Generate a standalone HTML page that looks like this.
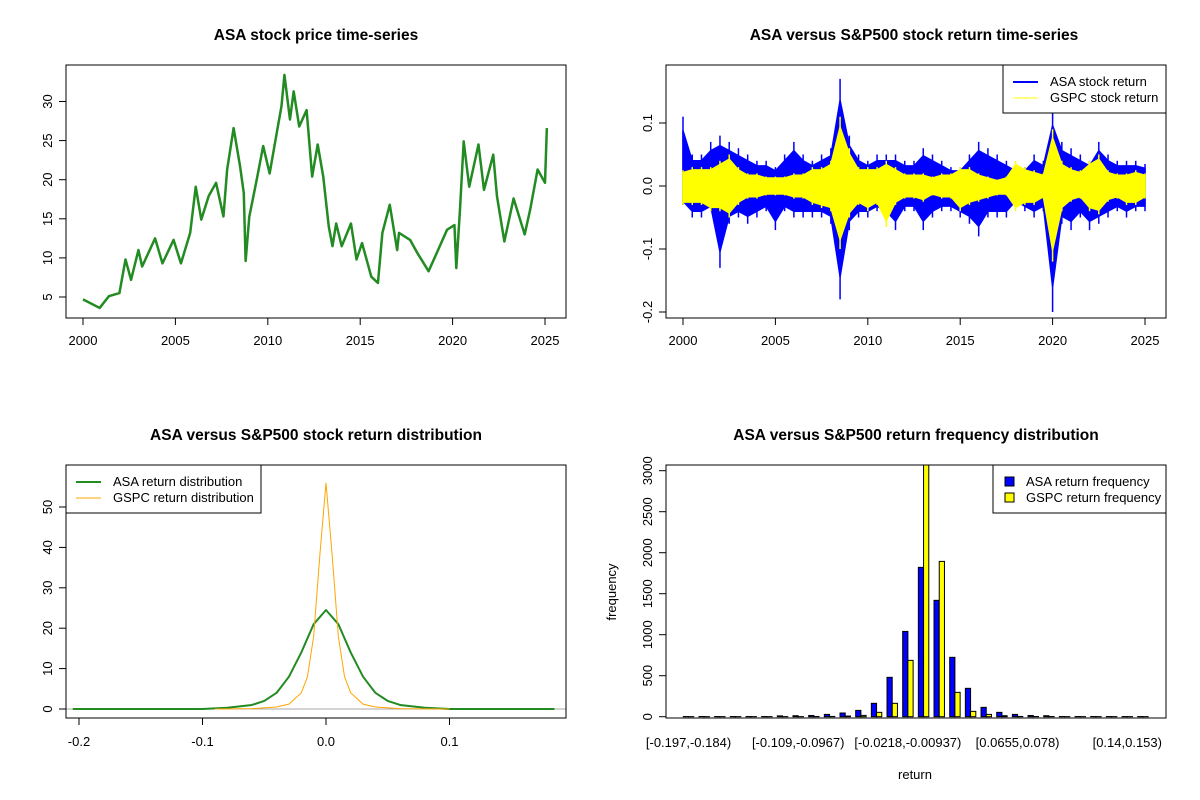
<!DOCTYPE html>
<html><head><meta charset="utf-8"><style>
body{margin:0;background:#fff}
svg{display:block;font-family:"Liberation Sans",Arial,sans-serif}
</style></head><body>
<svg id="c" width="1200" height="800" viewBox="0 0 1200 800"></svg>
<script>
// ---------- data ----------
const priceYears=[2000,2000.9,2001.4,2001.97,2002.3,2002.6,2003,2003.2,2003.9,2004.3,2004.9,2005.3,2005.8,2006.1,2006.4,2006.8,2007.2,2007.6,2007.8,2008.15,2008.5,2008.7,2008.8,2009,2009.4,2009.75,2010.1,2010.5,2010.74,2010.9,2011.2,2011.4,2011.7,2012.1,2012.4,2012.7,2013,2013.3,2013.5,2013.7,2014,2014.5,2014.8,2015.1,2015.6,2015.96,2016.2,2016.6,2017,2017.1,2017.7,2018.1,2018.7,2019.1,2019.7,2020.1,2020.2,2020.4,2020.6,2020.9,2021.4,2021.7,2022.2,2022.4,2022.8,2023.3,2023.9,2024.2,2024.6,2025,2025.1];
const priceVals=[4.7,3.6,5.1,5.5,9.8,7.2,11,8.9,12.5,9.3,12.3,9.3,13.2,19.1,14.9,17.9,19.6,15.3,21.3,26.6,21.7,18.3,9.6,15.3,20,24.3,20.8,26.2,29.4,33.4,27.7,31.3,26.8,28.9,20.4,24.5,20.4,14,11.5,14.4,11.5,14.4,9.8,11.9,7.6,6.8,13.2,16.8,11,13.2,12.3,10.6,8.3,10.4,13.6,14.2,8.7,16.2,24.9,19.1,24.5,18.7,23.2,17.9,12.1,17.6,13,16.2,21.3,19.6,26.6];
const retYears=[2000,2000.5,2001,2001.5,2002,2002.5,2003,2003.5,2004,2004.5,2005,2005.5,2006,2006.5,2007,2007.5,2008,2008.5,2009,2009.5,2010,2010.5,2011,2011.5,2012,2012.5,2013,2013.5,2014,2014.5,2015,2015.5,2016,2016.5,2017,2017.5,2018,2018.5,2019,2019.5,2020,2020.5,2021,2021.5,2022,2022.5,2023,2023.5,2024,2024.5,2025];
const asaHi=[0.11,0.05,0.05,0.07,0.08,0.07,0.06,0.05,0.04,0.04,0.03,0.05,0.07,0.05,0.04,0.05,0.06,0.17,0.08,0.05,0.04,0.05,0.05,0.05,0.04,0.04,0.06,0.05,0.04,0.03,0.03,0.05,0.07,0.06,0.05,0.04,0.03,0.03,0.05,0.04,0.12,0.07,0.06,0.05,0.04,0.07,0.05,0.04,0.04,0.04,0.035];
const asaLo=[-0.03,-0.05,-0.05,-0.04,-0.13,-0.06,-0.05,-0.06,-0.05,-0.04,-0.07,-0.04,-0.05,-0.05,-0.05,-0.05,-0.06,-0.18,-0.07,-0.05,-0.05,-0.04,-0.05,-0.07,-0.04,-0.04,-0.07,-0.05,-0.04,-0.04,-0.05,-0.06,-0.08,-0.05,-0.05,-0.05,-0.03,-0.04,-0.05,-0.04,-0.2,-0.06,-0.07,-0.05,-0.07,-0.06,-0.05,-0.04,-0.05,-0.04,-0.04];
const gspcHi=[0.025,0.03,0.03,0.03,0.04,0.05,0.03,0.02,0.02,0.015,0.015,0.015,0.02,0.02,0.03,0.03,0.04,0.11,0.06,0.03,0.03,0.03,0.04,0.03,0.02,0.02,0.02,0.015,0.02,0.02,0.03,0.03,0.02,0.015,0.01,0.015,0.04,0.03,0.025,0.02,0.09,0.04,0.03,0.025,0.04,0.05,0.025,0.02,0.02,0.025,0.02];
const gspcLo=[-0.03,-0.03,-0.03,-0.04,-0.04,-0.05,-0.03,-0.02,-0.02,-0.015,-0.015,-0.015,-0.02,-0.02,-0.03,-0.035,-0.04,-0.1,-0.05,-0.03,-0.04,-0.03,-0.065,-0.03,-0.02,-0.02,-0.025,-0.015,-0.02,-0.02,-0.04,-0.03,-0.025,-0.02,-0.015,-0.015,-0.04,-0.03,-0.03,-0.02,-0.12,-0.04,-0.025,-0.02,-0.04,-0.045,-0.025,-0.02,-0.03,-0.03,-0.02];
const densX=[-0.205,-0.1,-0.08,-0.06,-0.05,-0.04,-0.03,-0.02,-0.01,0,0.01,0.02,0.03,0.04,0.05,0.06,0.08,0.1,0.185];
const asaDens=[0,0,0.3,1,2,4,8,14,21,24.5,21,14,8,4,2,1,0.3,0,0];
const gspcX=[-0.09,-0.06,-0.04,-0.03,-0.02,-0.015,-0.01,-0.005,0,0.005,0.01,0.015,0.02,0.03,0.04,0.06,0.1];
const gspcDens=[0,0.1,0.5,1.2,4,8,18,38,56,38,18,8,4,1.2,0.5,0.1,0];
const binLabels=["[-0.197,-0.184)","[-0.109,-0.0967)","[-0.0218,-0.00937)","[0.0655,0.078)","[0.14,0.153)"];
const asaFreq=[2,2,2,2,2,2,10,12,15,28,45,77,163,480,1040,1821,1419,724,346,114,53,28,15,12,2,2,2,2,2,2];
const gspcFreq=[1,1,1,1,1,1,1,1,2,3,8,16,53,163,687,3250,1894,297,65,28,12,3,2,2,1,1,1,1,1,1];

// ---------- helpers ----------
const svg=document.getElementById('c');
const NS='http://www.w3.org/2000/svg';
function el(tag,attrs,parent){const e=document.createElementNS(NS,tag);for(const k in attrs)e.setAttribute(k,attrs[k]);(parent||svg).appendChild(e);return e;}
function txt(s,x,y,opts,parent){const t=el('text',Object.assign({x:x,y:y,'font-size':13,'text-anchor':'middle',fill:'#000'},opts||{}),parent);t.textContent=s;return t;}
function lin(d0,d1,r0,r1){return v=>r0+(v-d0)*(r1-r0)/(d1-d0);}
const TF={'font-size':15.5,'font-weight':'bold'};

// ---------- plot 1: price ----------
{const g=el('g',{});

const X=lin(2000,2025,83,545),Y=lin(5,30,297,101.5);
const t=txt('ASA stock price time-series',316,40,TF,g);

const p=el('polyline',{points:priceYears.map((y,i)=>X(y)+','+Y(priceVals[i])).join(' '),fill:'none',stroke:'#228B22','stroke-width':2.5,'stroke-linejoin':'round'},g);

el('rect',{x:66,y:65,width:500,height:253,fill:'none',stroke:'#000'},g);
for(let yr=2000;yr<=2025;yr+=5){el('line',{x1:X(yr),x2:X(yr),y1:318,y2:325,stroke:'#000'},g);txt(String(yr),X(yr),345,{},g);}
for(let v=5;v<=30;v+=5){el('line',{x1:59,x2:66,y1:Y(v),y2:Y(v),stroke:'#000'},g);txt(String(v),52,Y(v),{transform:`rotate(-90 52 ${Y(v)})`},g);}
}
// ---------- plot 2: returns ----------
{const g=el('g',{});

const X=lin(2000,2025,683,1145),Y=lin(0,0.1,186,123);
const t=txt('ASA versus S&P500 stock return time-series',914,40,TF,g);

function band(hi,lo,color,name,core){
 const pts=retYears.map((y,i)=>X(y)+','+Y(hi[i]*core)).concat(retYears.map((y,i)=>X(y)+','+Y(lo[i]*core)).reverse());
 const pg=el('polygon',{points:pts.join(' '),fill:color,stroke:color,'stroke-width':1.5},g);
 
 retYears.forEach((y,i)=>{const ln=el('line',{x1:X(y),x2:X(y),y1:Y(hi[i]),y2:Y(lo[i]),stroke:color,'stroke-width':1.5},g);
 });
}
band(asaHi,asaLo,'#0000FF','asa-return-series',0.8);
band(gspcHi,gspcLo,'#FFFF00','gspc-return-series',0.85);
el('rect',{x:666,y:65,width:500,height:253,fill:'none',stroke:'#000'},g);
for(let yr=2000;yr<=2025;yr+=5){el('line',{x1:X(yr),x2:X(yr),y1:318,y2:325,stroke:'#000'},g);txt(String(yr),X(yr),345,{},g);}
[-0.2,-0.1,0,0.1].forEach(v=>{el('line',{x1:659,x2:666,y1:Y(v),y2:Y(v),stroke:'#000'},g);const s=v===0?'0.0':String(v);txt(s,652,Y(v),{transform:`rotate(-90 652 ${Y(v)})`},g);});
const lg=el('g',{},g);
el('rect',{x:1003,y:65,width:163,height:48,fill:'#fff',stroke:'#000'},lg);
el('line',{x1:1013,x2:1038,y1:82,y2:82,stroke:'#0000FF','stroke-width':2},lg);
el('line',{x1:1013,x2:1038,y1:98,y2:98,stroke:'#FFFF00','stroke-width':1},lg);
txt('ASA stock return',1050,86,{'text-anchor':'start'},lg);
txt('GSPC stock return',1050,102,{'text-anchor':'start'},lg);
}
// ---------- plot 3: density ----------
{const g=el('g',{});

const X=lin(0,0.1,326,449.5),Y=lin(0,50,709,507);
const t=txt('ASA versus S&P500 stock return distribution',316,440,TF,g);

el('line',{x1:66,x2:566,y1:Y(0),y2:Y(0),stroke:'#aaa'},g);
const a=el('polyline',{points:densX.map((x,i)=>X(x)+','+Y(asaDens[i])).join(' '),fill:'none',stroke:'#228B22','stroke-width':2,'stroke-linejoin':'round'},g);

const b=el('polyline',{points:gspcX.map((x,i)=>X(x)+','+Y(gspcDens[i])).join(' '),fill:'none',stroke:'#FFA500','stroke-width':1},g);

el('rect',{x:66,y:465,width:500,height:253,fill:'none',stroke:'#000'},g);
[-0.2,-0.1,0,0.1].forEach(v=>{el('line',{x1:X(v),x2:X(v),y1:718,y2:725,stroke:'#000'},g);txt(v===0?'0.0':String(v),X(v),746,{},g);});
el('line',{x1:X(-0.2),x2:X(0.1),y1:718,y2:718,stroke:'#000'},g);
for(let v=0;v<=50;v+=10){el('line',{x1:59,x2:66,y1:Y(v),y2:Y(v),stroke:'#000'},g);txt(String(v),52,Y(v),{transform:`rotate(-90 52 ${Y(v)})`},g);}
const lg=el('g',{},g);
el('rect',{x:66,y:465,width:195,height:48,fill:'#fff',stroke:'#000'},lg);
el('line',{x1:76,x2:101,y1:482,y2:482,stroke:'#228B22','stroke-width':2},lg);
el('line',{x1:76,x2:101,y1:498,y2:498,stroke:'#FFA500','stroke-width':1},lg);
txt('ASA return distribution',113,486,{'text-anchor':'start'},lg);
txt('GSPC return distribution',113,502,{'text-anchor':'start'},lg);
}
// ---------- plot 4: histogram ----------
{const g=el('g',{});

const Y=lin(0,3000,716.7,470.7);
const pitch=15.67,bw=5.22,x0=683.3;
const t=txt('ASA versus S&P500 return frequency distribution',916,440,TF,g);

const cp=el('clipPath',{id:'hc'},g);
el('rect',{x:666,y:465,width:500,height:253},cp);
const bars=el('g',{'clip-path':'url(#hc)'},g);
asaFreq.forEach((v,i)=>{const x=x0+i*pitch;
 const r=el('rect',{x:x,y:Y(v),width:bw,height:Y(0)-Y(v),fill:'#0000FF',stroke:'#000','stroke-width':1},bars);
 
 const v2=gspcFreq[i];
 const r2=el('rect',{x:x+bw,y:Y(v2),width:bw,height:Y(0)-Y(v2),fill:'#FFFF00',stroke:'#000','stroke-width':1},bars);
 });
el('rect',{x:666,y:465,width:500,height:253,fill:'none',stroke:'#000'},g);
binLabels.forEach((s,k)=>{const i=k*7;txt(s,x0+i*pitch+bw,747,{},g);});
for(let v=0;v<=3000;v+=500){el('line',{x1:659,x2:666,y1:Y(v),y2:Y(v),stroke:'#000'},g);txt(String(v),652,Y(v),{transform:`rotate(-90 652 ${Y(v)})`},g);}
txt('frequency',616,592,{transform:'rotate(-90 616 592)'},g);
txt('return',915,779,{},g);
const lg=el('g',{},g);
el('rect',{x:993,y:465,width:173,height:48,fill:'#fff',stroke:'#000'},lg);
el('rect',{x:1005,y:477,width:9,height:9,fill:'#0000FF',stroke:'#000'},lg);
el('rect',{x:1005,y:493,width:9,height:9,fill:'#FFFF00',stroke:'#000'},lg);
txt('ASA return frequency',1026,486,{'text-anchor':'start'},lg);
txt('GSPC return frequency',1026,502,{'text-anchor':'start'},lg);
}
</script>
</body></html>
